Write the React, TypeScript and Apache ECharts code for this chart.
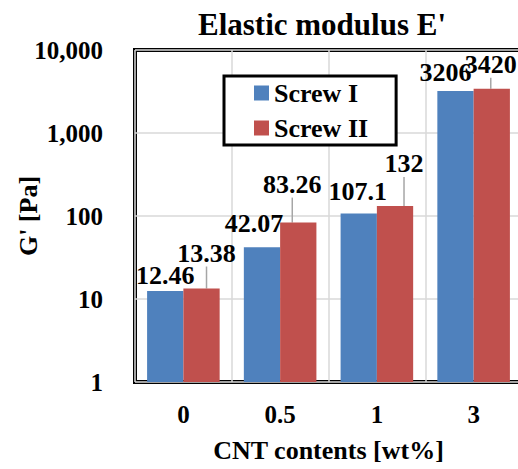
import React, { useEffect, useRef } from "react";
import * as echarts from "echarts";

const categories = ["0", "0.5", "1", "3"];
const screwI = [12.46, 42.07, 107.1, 3206];
const screwII = [13.38, 83.26, 132, 3420];
const seriesNames = ["Screw I", "Screw II"];
const titleText = "Elastic modulus E'";
const xName = "CNT contents [wt%]";
const yName = "G' [Pa]";

const FONT = "Liberation Serif, Times New Roman, serif";
const blueOffsets = [[0, 0], [-8, -8], [-1, -6], [-10, -3]];
const redOffsets = [[5, -19], [-6, -22], [9, -26], [-1, -8]];

export default function App() {
  const ref = useRef<HTMLDivElement>(null);
  useEffect(() => {
    if (!ref.current) return;
    const chart = echarts.init(ref.current, undefined, { renderer: "svg" });
    const labelStyle = {
      show: true,
      position: "top",
      distance: 3,
      fontFamily: FONT,
      fontWeight: "bold",
      fontSize: 26,
      color: "#000",
      formatter: (p: any) => String(p.value),
    };
    chart.setOption({
      animation: false,
      backgroundColor: "#fff",
      textStyle: { fontFamily: FONT },
      title: {
        text: titleText,
        left: 317,
        textAlign: "center",
        top: 4,
        textStyle: { fontFamily: FONT, fontWeight: "bold", fontSize: 31, color: "#000" },
      },
      legend: {
        data: seriesNames,
        orient: "vertical",
        left: 224,
        top: 76,
        icon: "rect",
        itemWidth: 15,
        itemHeight: 15,
        itemGap: 9,
        padding: [4, 28, 4, 30],
        borderColor: "#000",
        borderWidth: 3,
        backgroundColor: "#fff",
        textStyle: { fontFamily: FONT, fontWeight: "bold", fontSize: 26, color: "#000" },
      },
      grid: {
        left: 135,
        width: 387,
        top: 50,
        bottom: 87,
        show: true,
        borderColor: "#000",
        borderWidth: 4,
        outerBoundsMode: "none",
        containLabel: false,
      },
      xAxis: {
        type: "category",
        data: categories,
        name: xName,
        nameLocation: "middle",
        nameGap: 55,
        nameMoveOverlap: false,
        nameTextStyle: { fontFamily: FONT, fontWeight: "bold", fontSize: 26, color: "#000" },
        axisLine: { show: false },
        axisTick: { show: false },
        axisLabel: { fontFamily: FONT, fontWeight: "bold", fontSize: 25, color: "#000", margin: 20 },
        splitLine: { show: true, lineStyle: { color: "#d9d9d9", width: 1.5 } },
      },
      yAxis: {
        type: "log",
        logBase: 10,
        min: 1,
        max: 10000,
        name: yName,
        nameLocation: "middle",
        nameGap: 94,
        nameMoveOverlap: false,
        nameTextStyle: { fontFamily: FONT, fontWeight: "bold", fontSize: 26, color: "#000" },
        axisLine: { show: false },
        axisTick: { show: false },
        axisLabel: {
          fontFamily: FONT,
          fontWeight: "bold",
          fontSize: 25,
          color: "#000",
          margin: 32,
          formatter: (v: number) => Math.round(v).toLocaleString("en-US"),
        },
        splitLine: { show: true, lineStyle: { color: "#d9d9d9", width: 1.5 } },
      },
      series: [
        {
          name: seriesNames[0],
          type: "bar",
          data: screwI,
          barGap: "0%",
          barCategoryGap: "25%",
          itemStyle: { color: "#4F81BD" },
          label: labelStyle,
          labelLayout: (p: any) => ({ dx: blueOffsets[p.dataIndex][0], dy: blueOffsets[p.dataIndex][1] }),
        },
        {
          name: seriesNames[1],
          type: "bar",
          data: screwII,
          barGap: "0%",
          barCategoryGap: "25%",
          itemStyle: { color: "#C0504D" },
          label: labelStyle,
          labelLine: { show: true, lineStyle: { color: "#a6a6a6", width: 1.5 } },
          labelLayout: (p: any) => ({ dx: redOffsets[p.dataIndex][0], dy: redOffsets[p.dataIndex][1] }),
        },
      ],
    });
    return () => chart.dispose();
  }, []);
  return <div ref={ref} style={{ width: 518, height: 469, position: "absolute", left: 0, top: 0 }} />;
}
